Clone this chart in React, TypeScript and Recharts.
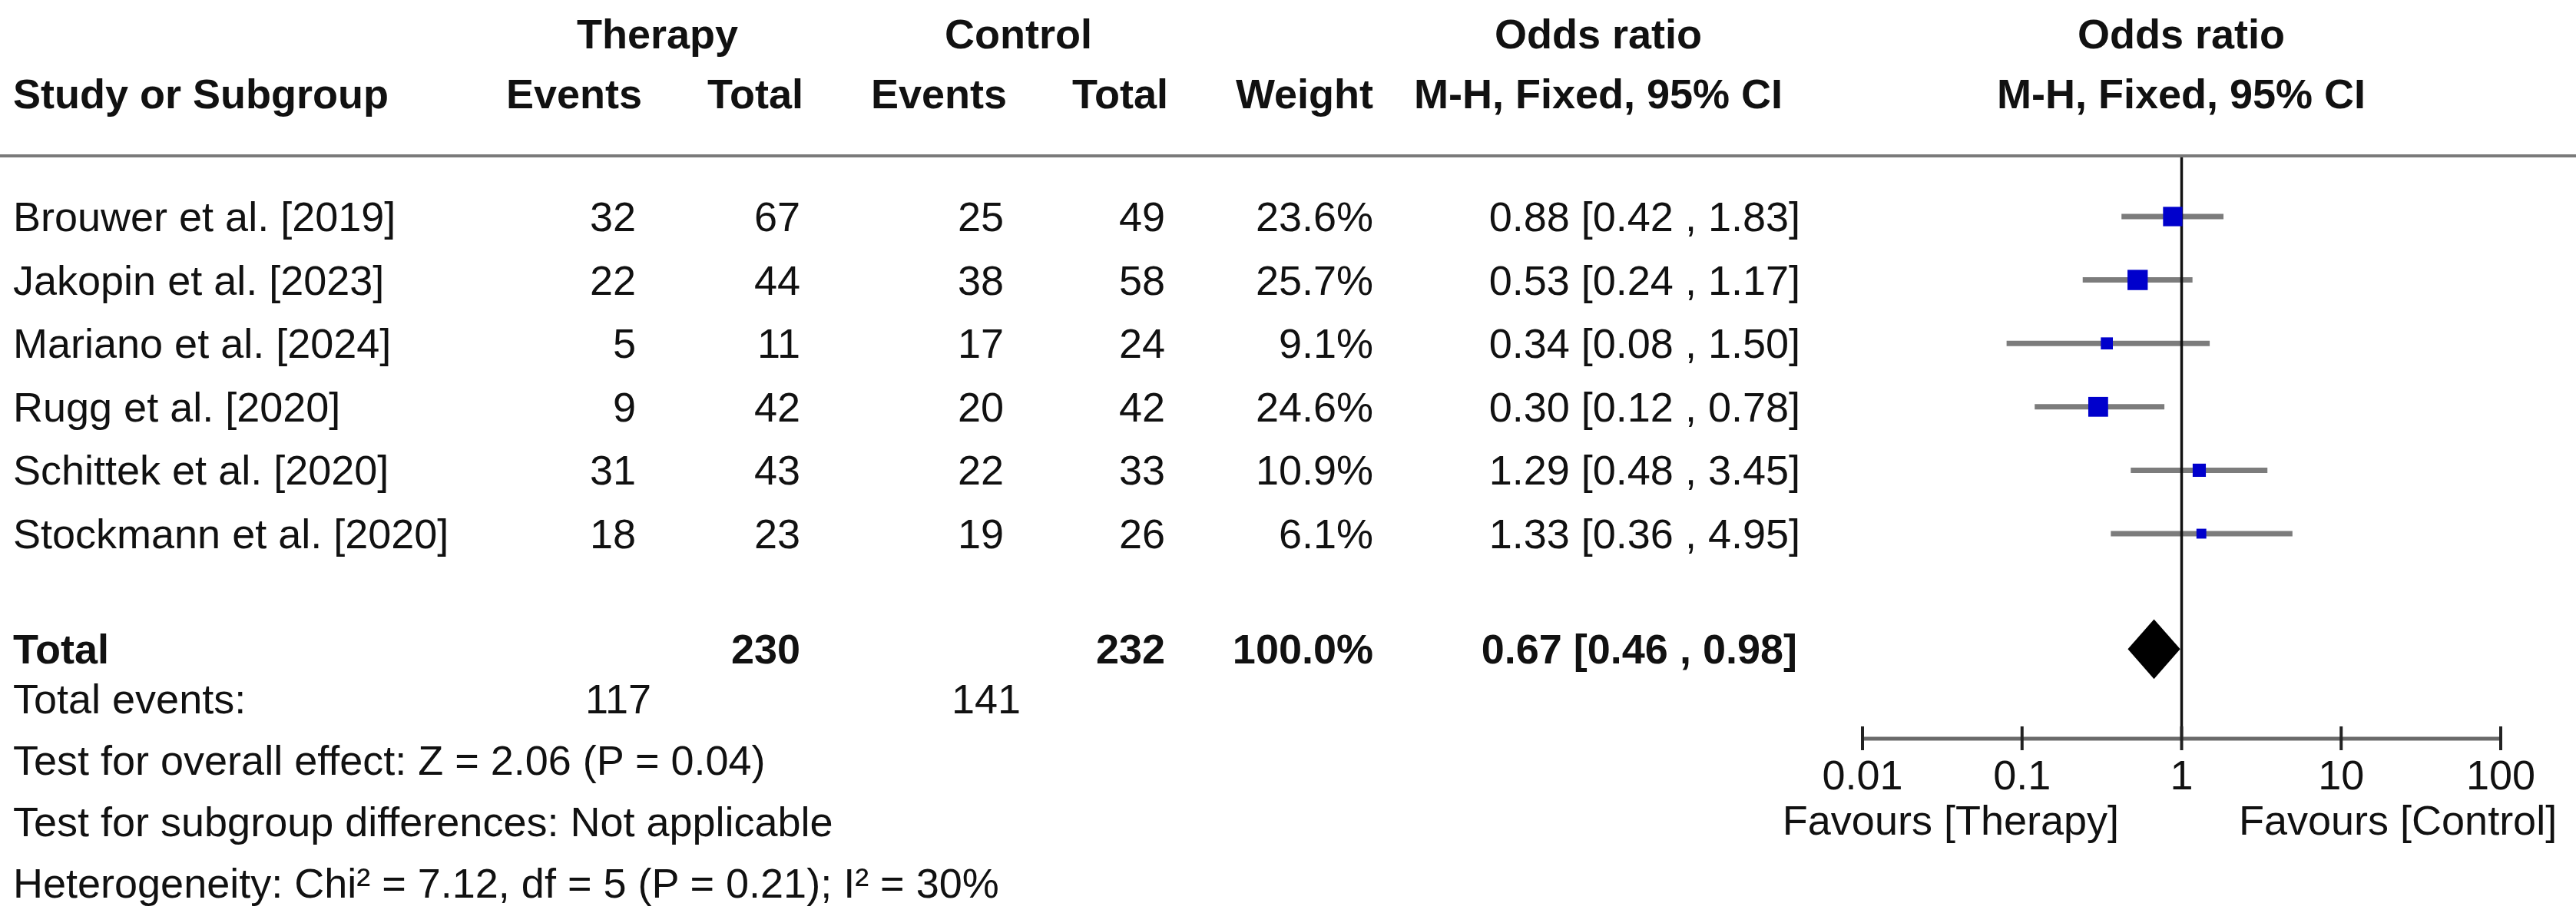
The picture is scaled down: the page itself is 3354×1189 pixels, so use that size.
import React from 'react';
import {
  ComposedChart,
  ReferenceArea,
  ReferenceLine,
  Scatter,
  XAxis,
  YAxis,
} from 'recharts';

const studyNames = [
  'Brouwer et al. [2019]',
  'Jakopin et al. [2023]',
  'Mariano et al. [2024]',
  'Rugg et al. [2020]',
  'Schittek et al. [2020]',
  'Stockmann et al. [2020]',
];
const therapyEvents = [32, 22, 5, 9, 31, 18];
const therapyTotals = [67, 44, 11, 42, 43, 23];
const controlEvents = [25, 38, 17, 20, 22, 19];
const controlTotals = [49, 58, 24, 42, 33, 26];
const weights = [23.6, 25.7, 9.1, 24.6, 10.9, 6.1];
const oddsRatios = [0.88, 0.53, 0.34, 0.3, 1.29, 1.33];
const ciLower = [0.42, 0.24, 0.08, 0.12, 0.48, 0.36];
const ciUpper = [1.83, 1.17, 1.5, 0.78, 3.45, 4.95];

const totalTherapy = 230;
const totalControl = 232;
const totalWeight = 100.0;
const eventsTherapy = 117;
const eventsControl = 141;
const pooledOr = 0.67;
const pooledLower = 0.46;
const pooledUpper = 0.98;

const axisTicks = [0.01, 0.1, 1, 10, 100];
const footerLines = [
  'Test for overall effect: Z = 2.06 (P = 0.04)',
  'Test for subgroup differences: Not applicable',
  'Heterogeneity: Chi² = 7.12, df = 5 (P = 0.21); I² = 30%',
];

// layout (pixels of the 3354x1189 figure)
const W = 3354;
const H = 1189;
const ROW0 = 282;
const ROW_H = 82.6;
const TOTAL_POS = 6.82; // total row, in study-row units
const FOOT0 = 910;
const FOOT_H = 80;
const RULE_Y = 203;
const AXIS_Y = 962;
const PLOT_L = 2425;
const PLOT_R = 3256;
const FONT = '"Liberation Sans", Arial, Helvetica, sans-serif';
const FS = 54;
const CAP = 19;

const rowY = (i: number) => ROW0 + ROW_H * i;
const base = (i: number) => rowY(i) + CAP;
const footBase = (k: number) => FOOT0 + FOOT_H * k + CAP;

const studyRows = studyNames.map((name, i) => ({
  name,
  row: i,
  or: oddsRatios[i],
  lo: ciLower[i],
  hi: ciUpper[i],
  weight: weights[i],
}));

const fmtCi = (or: number, lo: number, hi: number) =>
  `${or.toFixed(2)} [${lo.toFixed(2)} , ${hi.toFixed(2)}]`;

// column anchors
const COL = {
  name: 17,
  thEvents: 836,
  thTotal: 1046,
  ctEvents: 1311,
  ctTotal: 1521,
  weight: 1788,
  ci: 2344,
  ciHead: 2081,
  plot: 2840,
};

function Square(props: any) {
  const { cx, cy, payload } = props;
  const s = 5.2 * Math.sqrt(payload.weight);
  return <rect x={cx - s / 2} y={cy - s / 2} width={s} height={s} fill="#0000cc" />;
}

function Diamond(props: any) {
  const { x, y, width, height } = props;
  const mx = x + width / 2;
  const my = y + height / 2;
  return (
    <polygon
      points={`${x},${my} ${mx},${y} ${x + width},${my} ${mx},${y + height}`}
      fill="#000"
    />
  );
}

function OrTick(props: any) {
  const { x, y, payload } = props;
  return (
    <g>
      <line x1={x} x2={x} y1={y - 16} y2={y + 15} stroke="#222" strokeWidth={4} />
      <text
        x={x}
        y={y + 66}
        textAnchor="middle"
        fontFamily={FONT}
        fontSize={FS}
        fill="#111"
      >
        {String(payload.value)}
      </text>
    </g>
  );
}

function T({
  x,
  y,
  children,
  anchor = 'start',
  bold = false,
}: {
  x: number;
  y: number;
  children: React.ReactNode;
  anchor?: 'start' | 'middle' | 'end';
  bold?: boolean;
}) {
  return (
    <text
      x={x}
      y={y}
      textAnchor={anchor}
      fontFamily={FONT}
      fontSize={FS}
      fontWeight={bold ? 700 : 400}
      fill="#111"
    >
      {children}
    </text>
  );
}

export default function App() {
  const yTop = (RULE_Y - ROW0) / ROW_H;
  const yBottom = (AXIS_Y - ROW0) / ROW_H;
  const h1 = 44 + CAP;
  const h2 = 122 + CAP;
  const totalBase = base(TOTAL_POS);

  return (
    <div
      style={{
        position: 'absolute',
        left: 0,
        top: 0,
        width: W,
        height: H,
        background: '#fff',
        overflow: 'hidden',
      }}
    >
      <div style={{ position: 'absolute', left: 0, top: 0 }}>
        <ComposedChart
          width={W}
          height={H}
          margin={{ top: RULE_Y, right: W - PLOT_R, bottom: 0, left: PLOT_L }}
        >
          <XAxis
            type="number"
            dataKey="or"
            scale="log"
            domain={[0.01, 100]}
            ticks={axisTicks}
            interval={0}
            allowDataOverflow
            height={H - AXIS_Y}
            axisLine={{ stroke: '#6a6a6a', strokeWidth: 5 }}
            tickLine={false}
            tickSize={0}
            tickMargin={0}
            tick={<OrTick />}
          />
          <YAxis
            type="number"
            dataKey="row"
            domain={[yTop, yBottom]}
            reversed
            hide
            allowDataOverflow
          />
          {studyRows.map((r) => (
            <ReferenceLine
              key={r.name}
              segment={[
                { x: r.lo, y: r.row },
                { x: r.hi, y: r.row },
              ]}
              stroke="#7c7c7c"
              strokeWidth={7}
            />
          ))}
          <ReferenceLine x={1} stroke="#111" strokeWidth={3.5} />
          <ReferenceArea
            x1={pooledLower}
            x2={pooledUpper}
            y1={TOTAL_POS - 0.47}
            y2={TOTAL_POS + 0.47}
            shape={<Diamond />}
          />
          <Scatter
            data={studyRows}
            dataKey="or"
            shape={<Square />}
            isAnimationActive={false}
          />
        </ComposedChart>
      </div>

      <svg
        width={W}
        height={H}
        style={{ position: 'absolute', left: 0, top: 0, pointerEvents: 'none' }}
      >
        <line x1={0} x2={W} y1={RULE_Y} y2={RULE_Y} stroke="#7a7a7a" strokeWidth={4} />

        <T x={856} y={h1} anchor="middle" bold>
          Therapy
        </T>
        <T x={1326} y={h1} anchor="middle" bold>
          Control
        </T>
        <T x={COL.ciHead} y={h1} anchor="middle" bold>
          Odds ratio
        </T>
        <T x={COL.plot} y={h1} anchor="middle" bold>
          Odds ratio
        </T>

        <T x={COL.name} y={h2} bold>
          Study or Subgroup
        </T>
        <T x={COL.thEvents} y={h2} anchor="end" bold>
          Events
        </T>
        <T x={COL.thTotal} y={h2} anchor="end" bold>
          Total
        </T>
        <T x={COL.ctEvents} y={h2} anchor="end" bold>
          Events
        </T>
        <T x={COL.ctTotal} y={h2} anchor="end" bold>
          Total
        </T>
        <T x={COL.weight} y={h2} anchor="end" bold>
          Weight
        </T>
        <T x={COL.ciHead} y={h2} anchor="middle" bold>
          M-H, Fixed, 95% CI
        </T>
        <T x={COL.plot} y={h2} anchor="middle" bold>
          M-H, Fixed, 95% CI
        </T>

        {studyRows.map((r, i) => (
          <g key={r.name}>
            <T x={COL.name} y={base(i)}>
              {r.name}
            </T>
            <T x={COL.thEvents - 8} y={base(i)} anchor="end">
              {therapyEvents[i]}
            </T>
            <T x={COL.thTotal - 4} y={base(i)} anchor="end">
              {therapyTotals[i]}
            </T>
            <T x={COL.ctEvents - 4} y={base(i)} anchor="end">
              {controlEvents[i]}
            </T>
            <T x={COL.ctTotal - 4} y={base(i)} anchor="end">
              {controlTotals[i]}
            </T>
            <T x={COL.weight} y={base(i)} anchor="end">
              {`${weights[i].toFixed(1)}%`}
            </T>
            <T x={COL.ci} y={base(i)} anchor="end">
              {fmtCi(oddsRatios[i], ciLower[i], ciUpper[i])}
            </T>
          </g>
        ))}

        <T x={COL.name} y={totalBase} bold>
          Total
        </T>
        <T x={COL.thTotal - 4} y={totalBase} anchor="end" bold>
          {totalTherapy}
        </T>
        <T x={COL.ctTotal - 4} y={totalBase} anchor="end" bold>
          {totalControl}
        </T>
        <T x={COL.weight} y={totalBase} anchor="end" bold>
          {`${totalWeight.toFixed(1)}%`}
        </T>
        <T x={COL.ci - 4} y={totalBase} anchor="end" bold>
          {fmtCi(pooledOr, pooledLower, pooledUpper)}
        </T>

        <T x={COL.name} y={footBase(0)}>
          Total events:
        </T>
        <T x={COL.thEvents + 12} y={footBase(0)} anchor="end">
          {eventsTherapy}
        </T>
        <T x={COL.ctEvents + 18} y={footBase(0)} anchor="end">
          {eventsControl}
        </T>
        {footerLines.map((line, k) => (
          <T key={line} x={COL.name} y={footBase(k + 1)}>
            {line}
          </T>
        ))}

        <T x={2759} y={1087} anchor="end">
          Favours [Therapy]
        </T>
        <T x={2915} y={1087}>
          Favours [Control]
        </T>
      </svg>
    </div>
  );
}
